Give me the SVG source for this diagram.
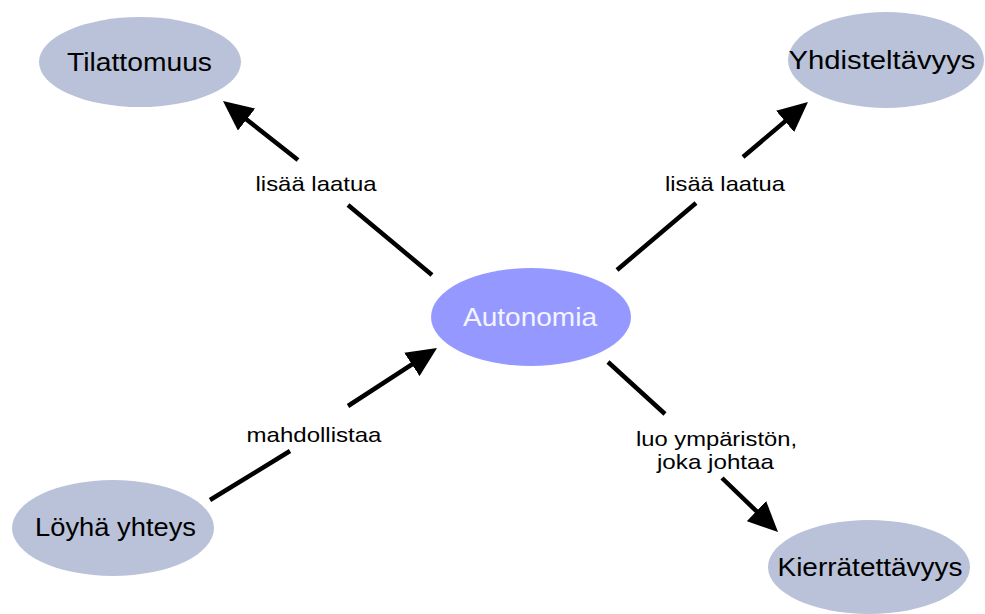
<svg xmlns="http://www.w3.org/2000/svg" width="985" height="614" viewBox="0 0 985 614">
<style>
.node{fill:#b9c2d9}
.main{fill:#9599ff}
.nt{font-family:"Liberation Sans",Arial,sans-serif;font-size:25px;fill:#000;text-anchor:middle;dominant-baseline:central}
.mt{font-family:"Liberation Sans",Arial,sans-serif;font-size:25px;fill:#f4f4ff;text-anchor:middle;dominant-baseline:central}
.lbl{font-family:"Liberation Sans",Arial,sans-serif;font-size:21px;fill:#000;text-anchor:middle;dominant-baseline:central}
.c{stroke:#000;stroke-width:4.5;fill:none}
</style>
<defs>
<marker id="ah" viewBox="0 0 30 28" refX="24" refY="14" markerWidth="30" markerHeight="28" orient="auto" markerUnits="userSpaceOnUse">
<path d="M0,0 L30,14 L0,28 Z" fill="#000"/>
</marker>
</defs>
<rect width="985" height="614" fill="#fff"/>
<g id="connectors">
<path class="c" d="M432,275 L348,205 M298,160 L227.7,104.7" marker-end="url(#ah)"/>
<path class="c" d="M617,270 L696,203 M743,157 L803.4,105.9" marker-end="url(#ah)"/>
<path class="c" d="M210,500 L290,451 M348,406 L432,351.3" marker-end="url(#ah)"/>
<path class="c" d="M608,362 L665,414 M722,478 L773.7,527.8" marker-end="url(#ah)"/>
<text class="lbl" x="316" y="183" textLength="121" lengthAdjust="spacingAndGlyphs">lisää laatua</text>
<text class="lbl" x="725" y="183" textLength="120" lengthAdjust="spacingAndGlyphs">lisää laatua</text>
<text class="lbl" x="314" y="434" textLength="135" lengthAdjust="spacingAndGlyphs">mahdollistaa</text>
<text class="lbl" x="716.5" y="438" textLength="161" lengthAdjust="spacingAndGlyphs">luo ympäristön,</text>
<text class="lbl" x="715.5" y="461" textLength="117" lengthAdjust="spacingAndGlyphs">joka johtaa</text>
</g>
<g id="tilattomuus">
<ellipse class="node" cx="140" cy="62" rx="101" ry="45"/>
<text class="nt" x="139.5" y="62" textLength="145" lengthAdjust="spacingAndGlyphs">Tilattomuus</text>
</g>
<g id="yhdisteltavyys">
<ellipse class="node" cx="886" cy="60" rx="98" ry="48"/>
<text class="nt" x="882" y="60" textLength="187" lengthAdjust="spacingAndGlyphs">Yhdisteltävyys</text>
</g>
<g id="autonomia">
<ellipse class="main" cx="531" cy="317" rx="100" ry="49"/>
<text class="mt" x="530" y="317" textLength="134" lengthAdjust="spacingAndGlyphs">Autonomia</text>
</g>
<g id="loyha">
<ellipse class="node" cx="113" cy="528" rx="101" ry="48"/>
<text class="nt" x="115.5" y="527" textLength="161" lengthAdjust="spacingAndGlyphs">Löyhä yhteys</text>
</g>
<g id="kierratettavyys">
<ellipse class="node" cx="869" cy="567" rx="101" ry="47"/>
<text class="nt" x="870" y="567" textLength="185" lengthAdjust="spacingAndGlyphs">Kierrätettävyys</text>
</g>
</svg>
